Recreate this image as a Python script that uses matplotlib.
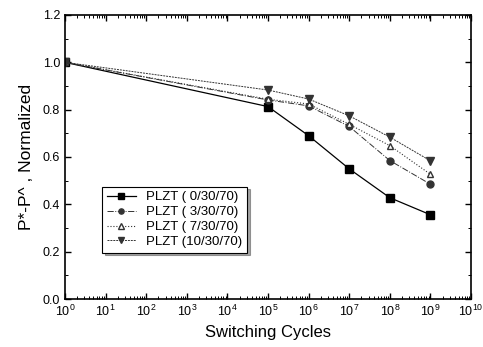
import matplotlib
matplotlib.use("Agg")
import matplotlib.pyplot as plt
from matplotlib.ticker import LogLocator, MultipleLocator, FixedLocator

plt.rcParams['font.family'] = ['Liberation Sans', 'DejaVu Sans']

# datos
cycles = [1e0, 1e5, 1e6, 1e7, 1e8, 1e9]
plzt_0 = [1.0, 0.813, 0.69, 0.55, 0.428, 0.356]
plzt_3 = [1.0, 0.841, 0.816, 0.729, 0.585, 0.485]
plzt_7 = [1.0, 0.844, 0.824, 0.738, 0.648, 0.527]
plzt_10 = [1.0, 0.883, 0.845, 0.774, 0.684, 0.584]
labels = ['PLZT ( 0/30/70)', 'PLZT ( 3/30/70)', 'PLZT ( 7/30/70)', 'PLZT (10/30/70)']

fig = plt.figure(figsize=(4.83, 3.47), dpi=100)
ax = fig.add_axes([65 / 483, 1 - 299 / 347, (471 - 65) / 483, (299 - 15) / 347])

ax.plot(cycles, plzt_0, linestyle='-', color='black', lw=0.9, marker='s', ms=6, label=labels[0])
ax.plot(cycles, plzt_3, linestyle='-.', color='#333333', lw=0.7, marker='o', ms=5, label=labels[1])
ax.plot(cycles, plzt_7, linestyle=':', color='#333333', lw=0.8, marker='^', ms=5, mfc='white',
        mec='#333333', label=labels[2])
ax.plot(cycles, plzt_10, linestyle=(0, (2, 1)), color='#333333', lw=0.7, marker='v', ms=6,
        label=labels[3])

ax.set_xscale('log')
ax.set_xlim(1, 1e10)
ax.set_ylim(0, 1.2)
ax.xaxis.set_major_locator(FixedLocator([10.0 ** k for k in range(11)]))
ax.xaxis.set_minor_locator(LogLocator(base=10, subs=range(2, 10), numticks=20))
ax.yaxis.set_major_locator(MultipleLocator(0.2))
ax.yaxis.set_minor_locator(MultipleLocator(0.1))
ax.yaxis.set_major_formatter(matplotlib.ticker.FormatStrFormatter('%.1f'))

ax.tick_params(which='both', direction='in', top=True, right=True, labelsize=9)
ax.tick_params(which='major', length=4, width=1)
ax.tick_params(which='minor', length=2, width=0.7)
for s in ax.spines.values():
    s.set_linewidth(1.2)

ax.set_xlabel('Switching Cycles', fontsize=12, labelpad=4)
ax.set_ylabel('P*-P^ , Normalized', fontsize=12.5, labelpad=6)

leg = ax.legend(loc='lower left', bbox_to_anchor=(0.075, 0.14), fontsize=9.5, frameon=True,
                fancybox=False, shadow=True, edgecolor='black', handlelength=2.2,
                borderpad=0.35, labelspacing=0.2, markerscale=0.75)
leg.get_frame().set_linewidth(0.8)

fig.savefig('out.png', dpi=100)
